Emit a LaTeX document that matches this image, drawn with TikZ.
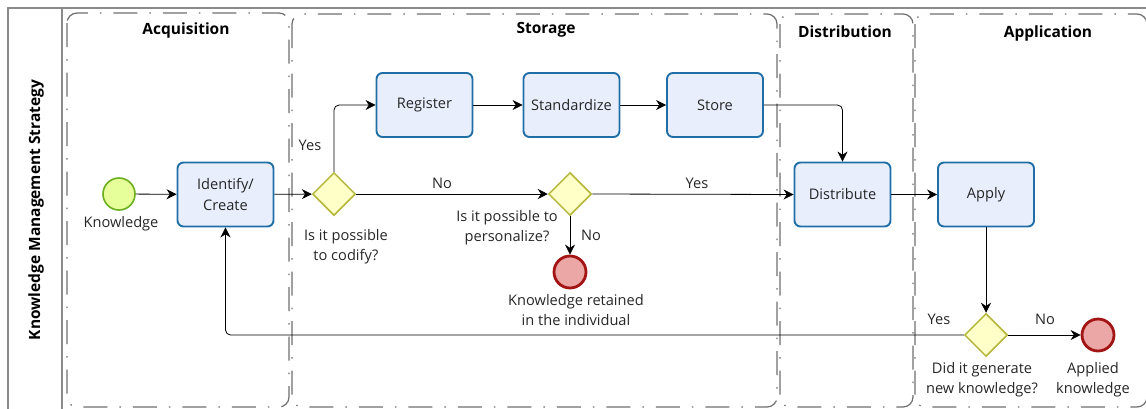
\documentclass[tikz,border=0pt]{standalone}
\usepackage{fontspec}
\setmainfont{Open Sans}
\usetikzlibrary{shapes.geometric,arrows.meta}
\definecolor{taskfill}{HTML}{E8EEFC}
\definecolor{taskdraw}{HTML}{1F6FA6}
\definecolor{gwfill}{HTML}{FFFFC8}
\definecolor{gwdraw}{HTML}{B5B53A}
\definecolor{stfill}{HTML}{E6FF9A}
\definecolor{stdraw}{HTML}{6BAF1F}
\definecolor{endfill}{HTML}{EBA6A6}
\definecolor{enddraw}{HTML}{A31414}
\definecolor{lanecol}{HTML}{6E6E6E}
\definecolor{framecol}{HTML}{8A8A8A}
\tikzset{
  txt/.style={font=\fontsize{14.6}{20}\selectfont, text=black!85, align=center, inner sep=0pt},
  ttl/.style={font=\fontsize{15.5}{18}\selectfont\bfseries, inner sep=0pt},
  task/.style={draw=taskdraw, fill=taskfill, line width=1.9pt, rounded corners=6pt,
    minimum width=96pt, minimum height=64pt, align=center, inner sep=0pt,
    font=\fontsize{14.6}{21}\selectfont, text=black!85},
  gw/.style={diamond, draw=gwdraw, fill=gwfill, line width=1.5pt, minimum width=43pt, minimum height=43pt, inner sep=0pt},
  startev/.style={circle, draw=stdraw, fill=stfill, line width=1.6pt, minimum size=32pt, inner sep=0pt},
  endev/.style={circle, draw=enddraw, fill=endfill, line width=2.8pt, minimum size=32pt, inner sep=0pt},
  lane/.style={draw=lanecol, line width=1.2pt, rounded corners=10pt, dash pattern=on 24pt off 12pt on 1.5pt off 12pt},
  flow/.style={draw=black, line width=0.8pt, -{Stealth[length=10pt,width=10pt]}},
}
\begin{document}
\begin{tikzpicture}[x=1pt,y=-1pt]
\useasboundingbox (0,0) rectangle (1146,408);
% pool frame
\draw[framecol, line width=1.4pt] (8,420) -- (8,8) -- (1160,8);
\draw[framecol, line width=1.4pt] (62,8) -- (62,420);
\node[ttl, rotate=90] (pool) at (36,210) {Knowledge Management Strategy};
% lanes
\draw[lane] (67,13) rectangle (289,407);
\draw[lane] (292,14) rectangle (777,407);
\draw[lane] (780,14) rectangle (913,407);
\draw[lane] (915,14) rectangle (1147,407);
\node[ttl] (t1) at (186,30) {Acquisition};
\node[ttl] (t2) at (546,30) {Storage};
\node[ttl] (t3) at (845,32) {Distribution};
\node[ttl] (t4) at (1048,33) {Application};
% nodes
\node[startev] (start) at (119,194) {};
\node[task] (ident) at (225.5,194.5) {Identify/\\Create};
\node[gw] (gw1) at (334,194) {};
\node[task] (reg) at (424.5,105) {Register};
\node[task] (std) at (571.5,105) {Standardize};
\node[task] (store) at (715,105) {Store};
\node[gw] (gw2) at (570,194) {};
\node[endev] (end2) at (570,272) {};
\node[task] (dist) at (842.5,194.5) {Distribute};
\node[task] (apply) at (986,194.5) {Apply};
\node[gw] (gw3) at (986,335) {};
\node[endev] (end3) at (1098,335) {};
% labels
\node[txt] (lk) at (121,224) {Knowledge};
\node[txt] (ly1) at (310,145) {Yes};
\node[txt] (lg1) at (346,247) {Is it possible\\to codify?};
\node[txt] (ln1) at (442,183) {No};
\node[txt] (ly2) at (697,183) {Yes};
\node[txt] (lg2) at (507,228) {Is it possible to\\personalize?};
\node[txt] (ln2) at (591,235) {No};
\node[txt] (le2) at (576,310) {Knowledge retained\\in the individual};
\node[txt] (ly3) at (939,319) {Yes};
\node[txt] (ln3) at (1045,319) {No};
\node[txt] (lg3) at (982,380) {Did it generate\\new knowledge?};
\node[txt] (le3) at (1093,380) {Applied\\knowledge};
% flows
\draw[flow] (start) -- (ident);
\draw[flow] (ident) -- (gw1);
\draw[flow, rounded corners=5pt] (gw1.north) |- (reg.west);
\draw[flow] (gw1.east) -- (gw2.west);
\draw[flow] (reg) -- (std);
\draw[flow] (std) -- (store);
\draw[flow, rounded corners=5pt] (store.east) -| (dist.north);
\draw[flow] (gw2.east) -- (dist.west);
\draw[flow] (gw2.south) -- (end2.north);
\draw[flow] (dist) -- (apply);
\draw[flow] (apply) -- (gw3);
\draw[flow, rounded corners=5pt] (gw3.west) -| (ident.south);
\draw[flow] (gw3.east) -- (end3.west);
\end{tikzpicture}
\end{document}
